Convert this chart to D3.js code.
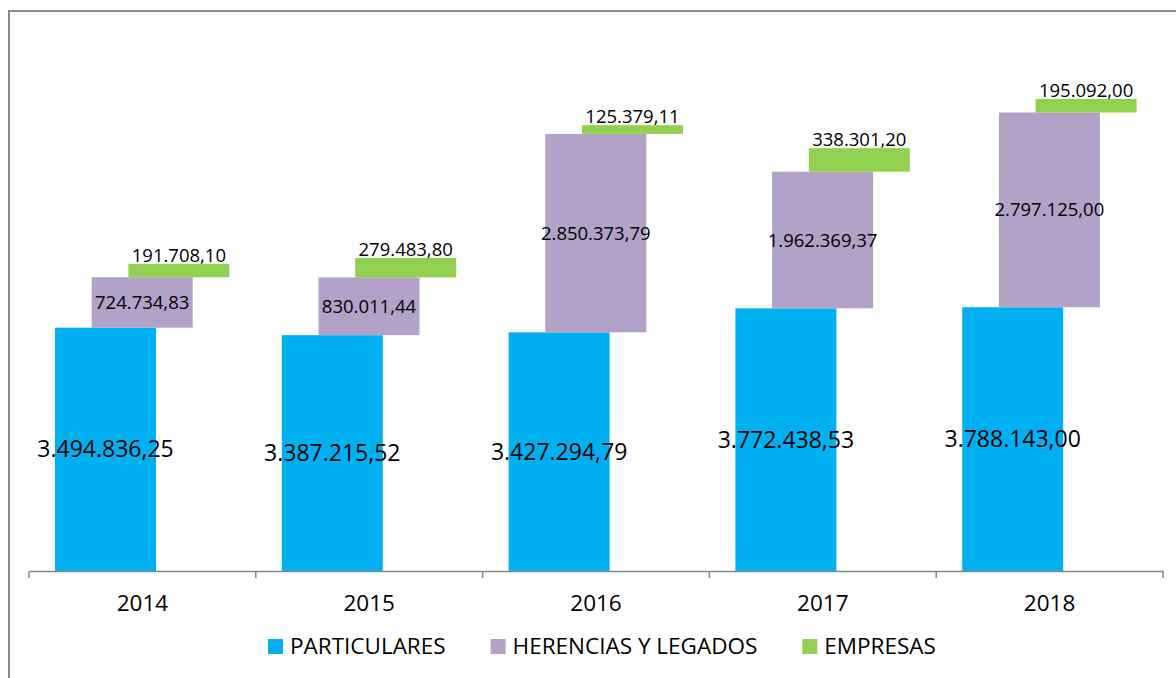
<!DOCTYPE html>
<html>
<head>
<meta charset="utf-8">
<script src="https://cdn.jsdelivr.net/npm/d3@7"></script>
<style>
  body { margin: 0; background: #fff; }
  svg { display: block; font-family: "Open Sans", sans-serif; }
</style>
</head>
<body>
<div id="chart"></div>
<script>
const years = ["2014", "2015", "2016", "2017", "2018"];
const particulares = [3494836.25, 3387215.52, 3427294.79, 3772438.53, 3788143.00];
const herencias = [724734.83, 830011.44, 2850373.79, 1962369.37, 2797125.00];
const empresas = [191708.10, 279483.80, 125379.11, 338301.20, 195092.00];
const seriesNames = ["PARTICULARES", "HERENCIAS Y LEGADOS", "EMPRESAS"];
const colors = ["#00B0F0", "#B2A2C7", "#92D050"];

const width = 1176, height = 678;
const axisY = 571;

const locale = d3.formatLocale({ decimal: ",", thousands: ".", grouping: [3], currency: ["", ""] });
const fmt = locale.format(",.2f");

const svg = d3.select("#chart").append("svg")
    .attr("width", width)
    .attr("height", height);

// outer chart border (right/bottom edges fall outside the picture)
svg.append("rect")
    .attr("x", 9).attr("y", 11)
    .attr("width", 1200).attr("height", 700)
    .attr("fill", "none")
    .attr("stroke", "#888")
    .attr("stroke-width", 2);

const x = d3.scaleBand().domain(years).range([29, 1163]).padding(0);
const y = d3.scaleLinear().domain([0, 8000000]).range([axisY, 14]);

const barW = 101;
const step = 36.7;
const inset = 26;

// build stacked rows: each series starts where the previous one ends
const rows = [];
years.forEach((yr, i) => {
    const vals = [particulares[i], herencias[i], empresas[i]];
    let base = 0;
    vals.forEach((v, s) => {
        rows.push({ year: yr, s: s, v: v, y0: base, y1: base + v });
        base += v;
    });
});

svg.selectAll("rect.bar")
    .data(rows)
    .enter()
    .append("rect")
    .attr("class", "bar")
    .attr("x", d => x(d.year) + inset + d.s * step)
    .attr("y", d => y(d.y1))
    .attr("width", barW)
    .attr("height", d => y(d.y0) - y(d.y1))
    .attr("fill", d => colors[d.s]);

// value labels
svg.selectAll("text.val")
    .data(rows)
    .enter()
    .append("text")
    .attr("class", "val")
    .attr("x", d => x(d.year) + inset + d.s * step + barW / 2)
    .attr("y", d => d.s === 2 ? y(d.y1) - 2 : (y(d.y0) + y(d.y1)) / 2)
    .attr("dy", d => d.s === 2 ? 0 : "0.35em")
    .attr("text-anchor", "middle")
    .attr("font-size", d => d.s === 0 ? 23 : 18.5)
    .attr("fill", "#000")
    .text(d => fmt(d.v));

// x axis
const xAxis = d3.axisBottom(x).tickSize(0).tickPadding(24);
const gx = svg.append("g")
    .attr("transform", "translate(0," + axisY + ")")
    .call(xAxis);
gx.select(".domain").attr("stroke", "#868686").attr("stroke-width", 1.5);
gx.selectAll("text").attr("font-size", 22.5).attr("fill", "#000")
    .attr("font-family", "Open Sans, sans-serif");

// tick marks on band boundaries
const bounds = years.map(d => x(d)).concat([x.range()[1]]);
gx.selectAll("line.sep")
    .data(bounds)
    .enter()
    .append("line")
    .attr("class", "sep")
    .attr("x1", d => d).attr("x2", d => d)
    .attr("y1", 0).attr("y2", 7)
    .attr("stroke", "#868686")
    .attr("stroke-width", 1.5);

// legend
const legend = svg.append("g").attr("transform", "translate(0,646)");
let lx = 268;
seriesNames.forEach((name, i) => {
    legend.append("rect")
        .attr("x", lx).attr("y", -7)
        .attr("width", 15).attr("height", 15)
        .attr("fill", colors[i]);
    const t = legend.append("text")
        .attr("x", lx + 22)
        .attr("dy", "0.35em")
        .attr("font-size", 22.5)
        .attr("fill", "#000")
        .text(name);
    lx += 22 + t.node().getComputedTextLength() + 45;
});
</script>
</body>
</html>
